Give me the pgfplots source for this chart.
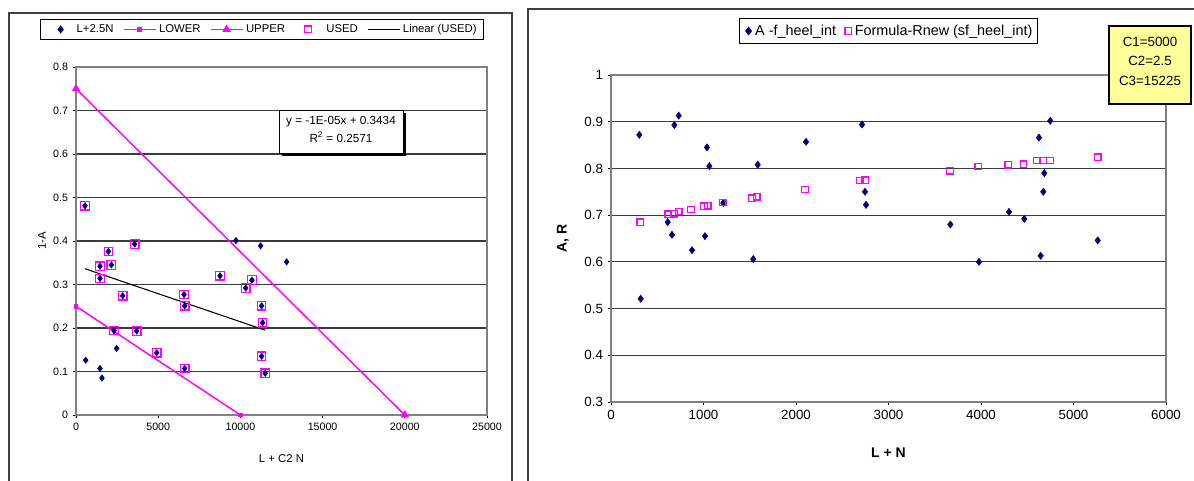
\documentclass[border=0pt]{standalone}
\usepackage{fontspec}
\setmainfont{Liberation Sans}
\usepackage{pgfplots}
\pgfplotsset{compat=1.18}

\definecolor{navy}{HTML}{000080}
\definecolor{mag}{HTML}{FF00FF}
\definecolor{grd}{HTML}{3C3C3C}
\definecolor{axg}{HTML}{808080}
\definecolor{note}{HTML}{FFFF99}

\pgfplotsset{
  excel/.style={
    scale only axis,
    axis line style={axg, line width=1.1pt},
    ymajorgrids,
    grid style={grd, line width=0.9pt},
    tick align=outside,
    major tick length=2.5pt,
    tick style={black, line width=0.6pt},
    xtick pos=bottom, ytick pos=left,
    scaled ticks=false,
    /pgf/number format/assume math mode=true,
    /pgf/number format/set thousands separator={},
    clip=false,
  },
  longimg/.style={
    legend image code/.code={
      \draw[mark repeat=2,mark phase=2,##1]
        plot coordinates {(0pt,0pt) (12pt,0pt) (24pt,0pt)};},
  },
  legdiamond/.style={
    legend image code/.code={\path[draw=none] (0pt,0pt) -- (22pt,0pt);
      \draw[##1] plot coordinates {(12pt,0pt)};},
  },
  legsquare/.style={
    legend image code/.code={\path[draw=none] (0pt,0pt) -- (22pt,0pt);
      \draw[##1, mark size=2.6pt] plot coordinates {(10pt,0pt)};},
  },
  legshort/.style={
    legend image code/.code={\path[draw=none] (0pt,0pt) -- (8pt,0pt);
      \draw[##1] plot coordinates {(5pt,0pt)};},
  },
}

\begin{document}
\begin{tikzpicture}[x=0.75pt,y=0.75pt]
\useasboundingbox (0,0) rectangle (1194,480);
\begin{scope}
  \clip (0,0) rectangle (1194,480);
  \draw[black!75, line width=0.9pt] (9,-10) -- (9,467) -- (512,467) -- (512,-10);
  \draw[black!75, line width=0.9pt] (528,-10) -- (528,471) -- (1210,471);
\end{scope}

% ---------- left chart ----------
\begin{axis}[excel, longimg,
  at={(57pt,48.75pt)}, anchor=south west,
  width=308.25pt, height=261pt,
  xmin=0, xmax=25000, ymin=0, ymax=0.8,
  xtick={0,5000,10000,15000,20000,25000},
  ytick={0,0.1,0.2,0.3,0.4,0.5,0.6,0.7,0.8},
  yticklabel style={/pgf/number format/fixed, /pgf/number format/precision=1},
  ticklabel style={font=\fontsize{8}{9}\selectfont},
  xlabel={L + C2 N}, ylabel={1-A},
  label style={font=\fontsize{8.5}{10}\selectfont},
  xlabel style={at={(axis description cs:0.5,-0.124)}, anchor=center},
  ylabel style={at={(axis description cs:-0.083,0.5)}, anchor=center},
  legend style={at={(axis description cs:0.4526,1.108)}, anchor=center,
    draw=black, line width=0.9pt, inner xsep=3pt, inner ysep=1.5pt,
    font=\fontsize{8.5}{10}\selectfont, legend columns=-1,
    /tikz/every even column/.append style={column sep=5pt}},
]
\addplot[only marks, mark=diamond*, mark size=2.4pt, color=navy, legdiamond] coordinates {
  (547,0.481) (590,0.126) (1460,0.107) (1580,0.085) (1460,0.342) (1460,0.314)
  (1970,0.376) (2150,0.345) (2310,0.194) (2470,0.153) (2840,0.274) (3570,0.393)
  (3690,0.193) (4910,0.143) (6570,0.277) (6610,0.251) (6610,0.107) (8760,0.320)
  (9730,0.401) (10320,0.292) (10700,0.310) (11230,0.389) (11290,0.251)
  (11350,0.212) (11290,0.135) (11510,0.096) (12810,0.352)
};
\addlegendentry{L+2.5N}
\addplot[mag, line width=1.1pt, mark=square*, mark size=1.3pt] coordinates {
  (0,0.25) (10000,0)
};
\addlegendentry{LOWER}
\addplot[mag, line width=1.1pt, mark=triangle*, mark size=2.6pt] coordinates {
  (0,0.75) (20000,0)
};
\addlegendentry{UPPER}
\addplot[only marks, mark=square, mark size=3.2pt, color=mag, line width=0.9pt, legsquare] coordinates {
  (547,0.481) (1460,0.342) (1460,0.314) (1970,0.376) (2150,0.345) (2310,0.194)
  (2840,0.274) (3570,0.393) (3690,0.193) (4910,0.143) (6570,0.277) (6610,0.251)
  (6610,0.107) (8760,0.320) (10320,0.292) (10700,0.310) (11290,0.251)
  (11350,0.212) (11290,0.135) (11510,0.096)
};
\addlegendentry{USED}
\addplot[black, line width=0.8pt] coordinates {
  (547,0.3363) (11510,0.1949)
};
\addlegendentry{Linear (USED)}
\end{axis}

% trendline label box
\fill[black] (282,324) rectangle (406,367);
\draw[black, line width=0.6pt, fill=white] (279,327) rectangle (403,370);
\node[font=\fontsize{8.8}{10}\selectfont, inner sep=0pt] at (341,358.3) {y = -1E-05x + 0.3434};
\node[font=\fontsize{8.8}{10}\selectfont, inner sep=0pt] at (341,342.7) {R\textsuperscript{2} = 0.2571};

% ---------- right chart ----------
\begin{axis}[excel, legshort,
  at={(458.25pt,58.5pt)}, anchor=south west,
  width=416.25pt, height=245.25pt,
  xmin=0, xmax=6000, ymin=0.3, ymax=1,
  xtick={0,1000,2000,3000,4000,5000,6000},
  ytick={0.3,0.4,0.5,0.6,0.7,0.8,0.9,1},
  yticklabel style={/pgf/number format/fixed, /pgf/number format/precision=1},
  ticklabel style={font=\fontsize{10}{11}\selectfont},
  xlabel={L + N}, ylabel={A, R},
  label style={font=\fontsize{10.5}{12}\selectfont\bfseries},
  xlabel style={at={(axis description cs:0.5,-0.156)}, anchor=center},
  ylabel style={at={(axis description cs:-0.0865,0.5)}, anchor=center},
  legend style={at={(axis description cs:0.5,1.1346)}, anchor=center,
    draw=black, line width=0.9pt, inner xsep=2pt, inner ysep=2.5pt,
    font=\fontsize{10.8}{12}\selectfont, legend columns=-1,
    /tikz/every even column/.append style={column sep=2pt}},
]
\addplot[only marks, mark=diamond*, mark size=2.7pt, color=navy] coordinates {
  (306,0.872) (321,0.521) (613,0.685) (659,0.658) (685,0.893) (732,0.913)
  (876,0.625) (1016,0.655) (1038,0.845) (1063,0.805) (1214,0.726) (1538,0.606)
  (1586,0.808) (2108,0.857) (2714,0.894) (2746,0.750) (2757,0.722)
  (4749,0.902) (4627,0.866) (4684,0.790) (4673,0.750) (4303,0.707)
  (4468,0.692) (3668,0.680) (5262,0.646) (3978,0.600) (4645,0.613)
};
\addlegendentry{A -f\_heel\_int}
\addplot[only marks, mark=square, mark size=2.4pt, color=mag, line width=1pt] coordinates {
  (314,0.685) (617,0.702) (681,0.703) (732,0.708) (865,0.712) (1005,0.719)
  (1045,0.720) (1207,0.727) (1524,0.736) (1575,0.739) (2097,0.755)
  (2692,0.774) (2749,0.775) (3665,0.795) (3971,0.804) (4295,0.808)
  (4458,0.809) (4603,0.817) (4675,0.817) (4746,0.817) (5262,0.824)
};
\addlegendentry{Formula-Rnew (sf\_heel\_int)}
\end{axis}

% constants box
\draw[black, line width=0.8pt, fill=note] (1109,376) rectangle (1191,454);
\node[font=\fontsize{10}{11}\selectfont, inner sep=0pt] at (1150,438.3) {C1=5000};
\node[font=\fontsize{10}{11}\selectfont, inner sep=0pt] at (1150,419) {C2=2.5};
\node[font=\fontsize{10}{11}\selectfont, inner sep=0pt] at (1150,399.5) {C3=15225};
\end{tikzpicture}
\end{document}
